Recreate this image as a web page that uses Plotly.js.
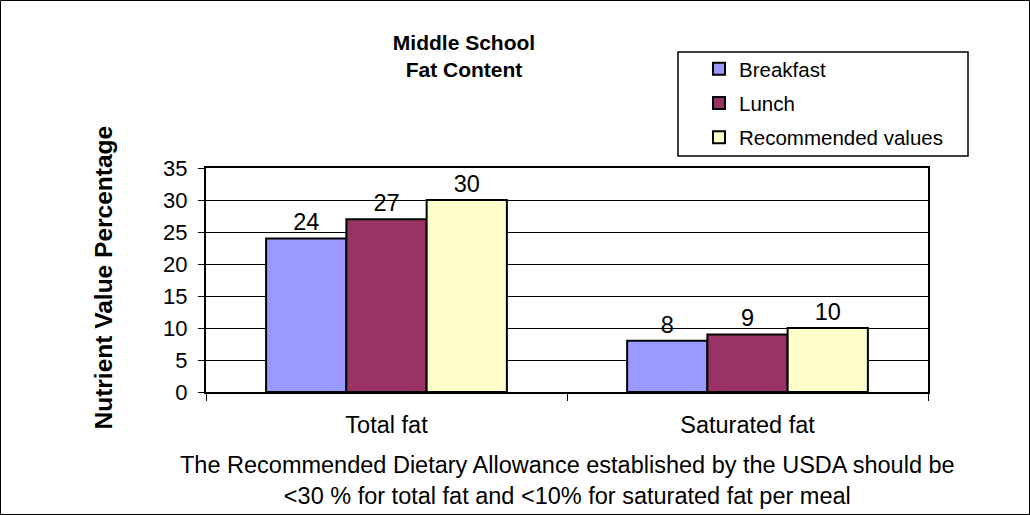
<!DOCTYPE html>
<html>
<head>
<meta charset="utf-8">
<script src="https://cdn.plot.ly/plotly-3.0.1.min.js"></script>
<style>
  html, body { margin: 0; padding: 0; background: #fff; }
  #chart { width: 1030px; height: 515px; }
</style>
</head>
<body>
<div id="chart"></div>
<script>
// Fat content categories and percentages per meal
const categories = ['Total fat', 'Saturated fat'];
const breakfast = [24, 8];
const lunch = [27, 9];
const recommended = [30, 10];
const seriesNames = ['Breakfast', 'Lunch', 'Recommended values'];
const seriesColors = ['#9999FF', '#993366', '#FFFFCC'];
const yTicks = [0, 5, 10, 15, 20, 25, 30, 35];

const FONT = 'Liberation Sans, Arial, sans-serif';

// plot area: x 206..928, y 168..392 in page pixels
const M = { l: 206, r: 102, t: 168, b: 123 };
const PW = 1030 - M.l - M.r, PH = 515 - M.t - M.b;
const px = v => (v - M.l) / PW;
const py = v => (515 - M.b - v) / PH;

const seriesValues = [breakfast, lunch, recommended];
const traces = seriesValues.map((vals, i) => ({
  type: 'bar',
  name: seriesNames[i],
  legendgroup: 'g' + i,
  x: categories,
  y: vals,
  text: vals.map(String),
  textposition: 'outside',
  textfont: { family: FONT, size: 23.5, color: '#000' },
  cliponaxis: false,
  marker: { color: seriesColors[i], line: { color: '#000', width: 2 } },
  hoverinfo: 'x+y+name'
}));

const layout = {
  width: 1030,
  height: 515,
  margin: M,
  paper_bgcolor: '#fff',
  plot_bgcolor: '#fff',
  font: { family: FONT, color: '#000' },
  barmode: 'group',
  bargap: 0.333,
  bargroupgap: 0,
  showlegend: true,
  title: {
    text: '<b>Middle School<br>Fat Content</b>',
    font: { family: FONT, size: 21, color: '#000' },
    xref: 'paper', x: px(464), xanchor: 'center',
    yref: 'container', y: 1 - 50 / 515, yanchor: 'middle'
  },
  xaxis: {
    type: 'category',
    showgrid: false,
    showline: true, linecolor: '#000', linewidth: 2, mirror: true,
    ticks: 'outside', tickson: 'boundaries', ticklen: 7, tickcolor: '#000', tickwidth: 1,
    tickfont: { family: FONT, size: 23.5, color: '#000' },
    ticklabelstandoff: 11,
    zeroline: false,
    fixedrange: true
  },
  yaxis: {
    range: [0, 35],
    tickvals: yTicks,
    ticktext: yTicks.map(String),
    showgrid: true, gridcolor: '#000', gridwidth: 1,
    showline: true, linecolor: '#000', linewidth: 2, mirror: true,
    ticks: 'outside', ticklen: 6, tickcolor: '#000', tickwidth: 1,
    tickfont: { family: FONT, size: 22, color: '#000' },
    ticklabelstandoff: 6,
    zeroline: false,
    fixedrange: true
  },
  legend: {
    x: px(699), xanchor: 'left',
    y: py(49), yanchor: 'top',
    bgcolor: 'rgba(0,0,0,0)',
    borderwidth: 0,
    traceorder: 'grouped',
    tracegroupgap: 4.5,
    font: { family: FONT, size: 20.5, color: '#000' }
  },
  shapes: [
    // legend frame
    { type: 'rect', xref: 'paper', yref: 'paper',
      x0: px(678), x1: px(968), y0: py(156), y1: py(52),
      line: { color: '#000', width: 1.5 }, fillcolor: 'rgba(0,0,0,0)', layer: 'below' },
    // outer chart frame
    { type: 'rect', xref: 'paper', yref: 'paper',
      x0: px(0.5), x1: px(1029.5), y0: py(514.5), y1: py(0.5),
      line: { color: '#000', width: 1 }, fillcolor: 'rgba(0,0,0,0)' }
  ],
  annotations: [
    { text: '<b>Nutrient Value Percentage</b>', textangle: -90,
      xref: 'paper', yref: 'paper', x: px(103), y: py(277.5),
      xanchor: 'center', yanchor: 'middle', showarrow: false,
      font: { family: FONT, size: 24.5, color: '#000' } },
    { text: 'The Recommended Dietary Allowance established by the USDA should be<br>&lt;30 % for total fat and &lt;10% for saturated fat per meal',
      xref: 'paper', yref: 'paper', x: px(567), y: py(480),
      xanchor: 'center', yanchor: 'middle', showarrow: false,
      font: { family: FONT, size: 23.5, color: '#000' } }
  ]
};

Plotly.newPlot('chart', traces, layout, { displayModeBar: false, staticPlot: true });
</script>
</body>
</html>
